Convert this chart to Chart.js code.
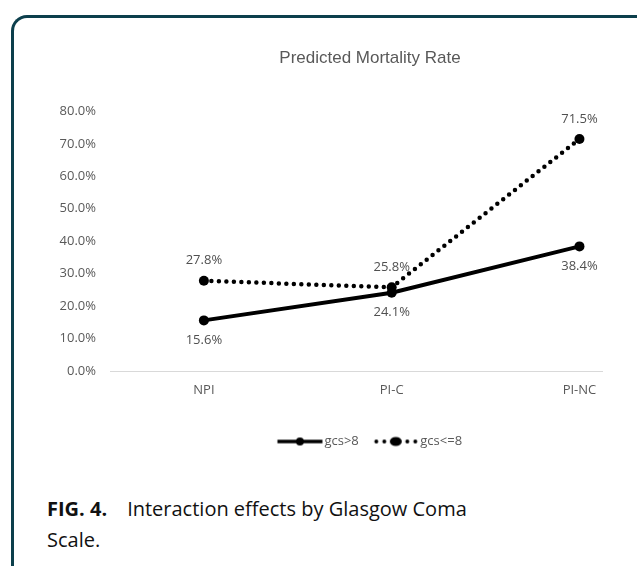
<!DOCTYPE html>
<html>
<head>
<meta charset="utf-8">
<script src="https://cdn.jsdelivr.net/npm/chart.js@4.4.0/dist/chart.umd.min.js"></script>
<style>
  html, body { margin: 0; padding: 0; background: #fff; }
  body { width: 637px; height: 573px; position: relative; overflow: hidden; }
  #frame {
    position: absolute; left: 11px; top: 15px; width: 700px; height: 548px;
    border-top: 3px solid #0c3f4c; border-left: 3px solid #0c3f4c;
    border-top-left-radius: 16px;
  }
  #wrap { position: absolute; left: 0; top: 0; width: 637px; height: 480px; }
  #caption {
    position: absolute; left: 47px; top: 493px;
    font-family: "Open Sans", sans-serif; font-size: 20px; line-height: 31px; color: #111;
  }
  #caption b { margin-right: 20px; }
</style>
</head>
<body>
<div id="frame"></div>
<div id="wrap"><canvas id="lineChart"></canvas></div>
<div id="caption"><b>FIG. 4.</b>Interaction effects by Glasgow Coma<br>Scale.</div>
<script>
var categories = ["NPI", "PI-C", "PI-NC"];
var gcsHigh = [15.6, 24.1, 38.4];   // gcs>8
var gcsLow = [27.8, 25.8, 71.5];    // gcs<=8
var yTicks = [0, 10, 20, 30, 40, 50, 60, 70, 80];

function toPoints(vals) {
  return vals.map(function (v, i) { return { x: i, y: v }; });
}

// legend swatches: line with a marker in the middle (content sits right of centre)
function swatch(dotted) {
  var c = document.createElement("canvas");
  c.width = 90; c.height = 12;
  var g = c.getContext("2d");
  var x0 = 24.5;
  g.fillStyle = "#000";
  g.strokeStyle = "#000";
  if (dotted) {
    [3, 11, 34, 42].forEach(function (x) {
      g.beginPath(); g.arc(x0 + x, 6, 2, 0, Math.PI * 2); g.fill();
    });
    g.beginPath(); g.ellipse(x0 + 22.5, 6, 6, 4.5, 0, 0, Math.PI * 2); g.fill();
  } else {
    g.lineWidth = 3.5;
    g.beginPath(); g.moveTo(x0, 6); g.lineTo(x0 + 45, 6); g.stroke();
    g.beginPath(); g.arc(x0 + 22.5, 6, 4, 0, Math.PI * 2); g.fill();
  }
  return c;
}

var dataLabels = {
  id: "dataLabels",
  afterDatasetsDraw: function (chart) {
    var ctx = chart.ctx;
    ctx.save();
    ctx.font = "13px 'Open Sans'";
    ctx.fillStyle = "#505050";
    ctx.textAlign = "center";
    ctx.textBaseline = "middle";
    chart.data.datasets.forEach(function (ds, di) {
      var meta = chart.getDatasetMeta(di);
      meta.data.forEach(function (pt, i) {
        var dy = ds.labelBelow ? 20 : -20;
        ctx.fillText(ds.data[i].y.toFixed(1) + "%", pt.x, pt.y + dy);
      });
    });
    ctx.restore();
  }
};

// title and legend are centred on the whole (wider) Excel chart object
var shiftBlocks = {
  id: "shiftBlocks",
  afterLayout: function (chart) {
    var d = 64;
    [chart.titleBlock, chart.legend].forEach(function (b) {
      b.left += d; b.right += d;
    });
  }
};

var ctx = document.getElementById("lineChart").getContext("2d");
var myChart = new Chart(ctx, {
  type: "line",
  data: {
    datasets: [
      {
        label: "gcs>8",
        data: toPoints(gcsHigh),
        borderColor: "#000",
        backgroundColor: "#000",
        borderWidth: 4,
        pointRadius: 5,
        pointBackgroundColor: "#000",
        pointBorderWidth: 0,
        labelBelow: true,
        swatch: swatch(false),
      },
      {
        label: "gcs<=8",
        data: toPoints(gcsLow),
        borderColor: "#000",
        backgroundColor: "#000",
        borderWidth: 4.5,
        borderDash: [0, 7.5],
        borderCapStyle: "round",
        pointRadius: 5,
        pointBackgroundColor: "#000",
        pointBorderWidth: 0,
        labelBelow: false,
        swatch: swatch(true),
      },
    ],
  },
  options: {
    responsive: true,
    maintainAspectRatio: false,
    animation: false,
    layout: { padding: { left: 10, right: 35, top: 48, bottom: 22 } },
    scales: {
      x: {
        type: "linear",
        min: -0.5,
        max: 2.12,
        afterBuildTicks: function (s) {
          s.ticks = categories.map(function (c, i) { return { value: i }; });
        },
        afterFit: function (s) { s.height = 49; },
        grid: { display: false, drawTicks: false },
        border: { display: true, color: "#d9d9d9", width: 1 },
        ticks: {
          padding: 11,
          color: "#595959",
          font: { family: "'Open Sans'", size: 13 },
          callback: function (v) { return categories[v]; },
        },
      },
      y: {
        min: 0,
        max: 80,
        afterBuildTicks: function (s) {
          s.ticks = yTicks.map(function (v) { return { value: v }; });
        },
        afterFit: function (s) { s.width = 100; },
        grid: { display: false, drawTicks: false },
        border: { display: false },
        ticks: {
          padding: 14,
          color: "#595959",
          font: { family: "'Open Sans'", size: 13 },
          callback: function (v) { return v.toFixed(1) + "%"; },
        },
      },
    },
    plugins: {
      title: {
        display: true,
        text: "Predicted Mortality Rate",
        color: "#595959",
        font: { family: "'Liberation Sans'", size: 17, weight: "normal" },
        padding: { top: 0, bottom: 43 },
      },
      legend: {
        position: "bottom",
        labels: {
          usePointStyle: true,
          pointStyleWidth: 40,
          boxHeight: 12,
          color: "#595959",
          font: { family: "'Open Sans'", size: 13 },
          padding: 15,
          generateLabels: function (chart) {
            return chart.data.datasets.map(function (ds, i) {
              return {
                text: ds.label,
                pointStyle: ds.swatch,
                fontColor: "#595959",
                lineWidth: 0,
                datasetIndex: i,
              };
            });
          },
        },
      },
      tooltip: { enabled: false },
    },
  },
  plugins: [dataLabels, shiftBlocks],
});
</script>
</body>
</html>
